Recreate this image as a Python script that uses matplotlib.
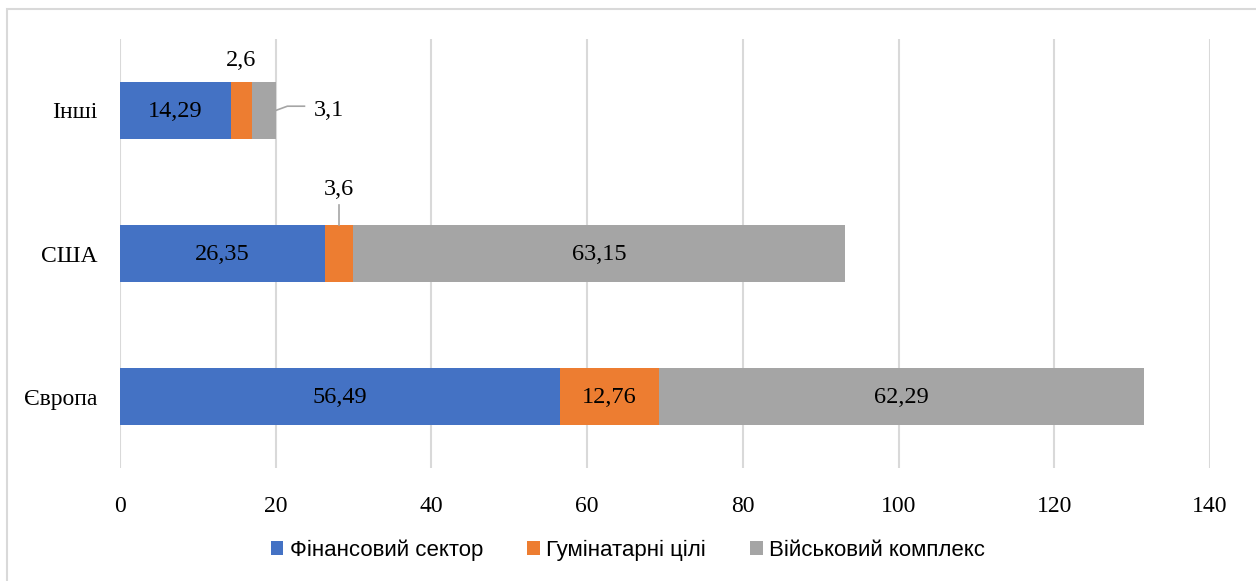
import matplotlib.pyplot as plt
from matplotlib.patches import Rectangle

plt.rcParams['font.family'] = ['Liberation Serif', 'DejaVu Serif']

regions = ["Європа", "США", "Інші"]
finance = [56.49, 26.35, 14.29]
humanitarian = [12.76, 3.6, 2.6]
military = [62.29, 63.15, 3.1]
series_names = ["Фінансовий сектор", "Гумінатарні цілі", "Військовий комплекс"]
colors = ["#4472C4", "#ED7D31", "#A5A5A5"]

fig = plt.figure(figsize=(12.56, 5.81), dpi=100)
ax = fig.add_axes([120 / 1256, 1 - 468 / 581, 1090 / 1256, 429 / 581])

# light frame round the chart area
fig.patches.append(Rectangle((7 / 1256, -0.1), 1.2, 1 - 9 / 581 + 0.1,
                             transform=fig.transFigure, fill=False,
                             edgecolor="#D9D9D9", linewidth=1.5))

y = range(len(regions))
left = [0] * len(regions)
for vals, name, c in zip([finance, humanitarian, military], series_names, colors):
    ax.barh(y, vals, left=left, height=0.4, color=c, label=name, zorder=3)
    left = [l + v for l, v in zip(left, vals)]

def fmt(v):
    return f"{v:g}".replace(".", ",")

lbl = dict(fontsize=17.5, color="black", ha="center", va="center")
# labels inside the bars
for i in range(len(regions)):
    ax.text(finance[i] / 2, i - 0.01, fmt(finance[i]), **lbl)
ax.text(finance[0] + humanitarian[0] / 2, -0.01, fmt(humanitarian[0]), **lbl)
for i in (0, 1):
    ax.text(finance[i] + humanitarian[i] + military[i] / 2, i - 0.01, fmt(military[i]), **lbl)

# small segments labelled outside
x26 = finance[2] + humanitarian[2] / 2
ax.text(x26, 2.35, fmt(humanitarian[2]), **lbl)
end3 = finance[2] + humanitarian[2] + military[2]
ax.plot([end3, end3 + 1.5, end3 + 3.7], [2.0, 2.03, 2.03], color="#A5A5A5", lw=1.2, zorder=4)
ax.text(end3 + 6.8, 2.0, fmt(military[2]), **lbl)
x36 = finance[1] + humanitarian[1] / 2
ax.plot([x36, x36], [1.2, 1.34], color="#A5A5A5", lw=1.2, zorder=4)
ax.text(x36, 1.45, fmt(humanitarian[1]), **lbl)

ax.set_xlim(0, 140)
ax.set_ylim(-0.5, 2.5)
ax.set_xticks(range(0, 141, 20))
ax.set_yticks(list(y))
ax.set_yticklabels(regions)
ax.grid(axis="x", color="#D9D9D9", linewidth=1.5, zorder=0)
for s in ax.spines.values():
    s.set_visible(False)
ax.tick_params(length=0, labelsize=17)
ax.tick_params(axis="x", pad=20)
ax.tick_params(axis="y", pad=16)

fig.legend(loc="center", bbox_to_anchor=(0.5, 1 - 550 / 581), ncol=3, frameon=False,
           prop={'family': ['Liberation Sans', 'DejaVu Sans'], 'size': 16},
           handlelength=0.55, handleheight=0.55, handletextpad=0.3, columnspacing=2.0)

fig.savefig("out.png", dpi=100)
